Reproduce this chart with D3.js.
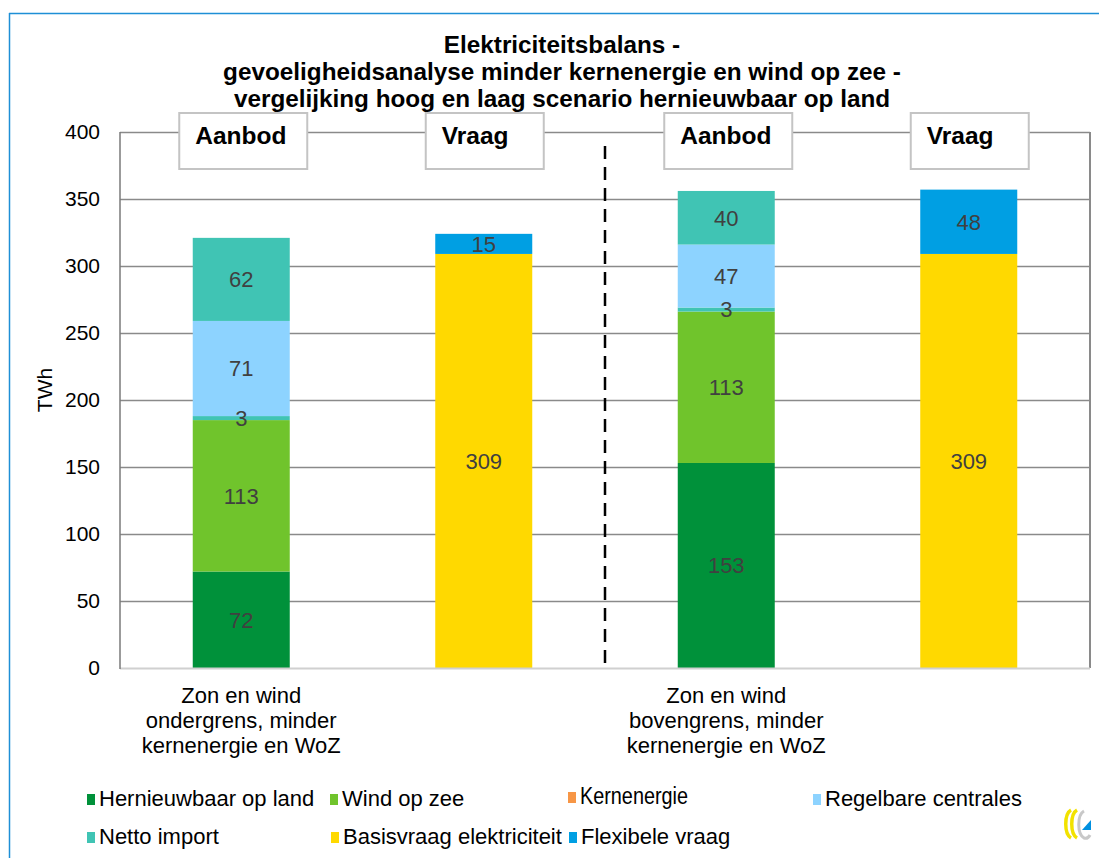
<!DOCTYPE html>
<html>
<head>
<meta charset="utf-8">
<script src="https://cdn.jsdelivr.net/npm/d3@7"></script>
<style>
  html, body { margin: 0; padding: 0; background: #fff; }
  svg { display: block; font-family: "Liberation Sans", Arial, sans-serif; }
</style>
</head>
<body>
<svg id="chart" width="1099" height="858"></svg>
<script>
// ---------- DATA ----------
const categories = ["Ondergrens – Aanbod", "Ondergrens – Vraag", "Bovengrens – Aanbod", "Bovengrens – Vraag"];
const categoryLabels = [
  ["Zon en wind", "ondergrens, minder", "kernenergie en WoZ"],
  [],
  ["Zon en wind", "bovengrens, minder", "kernenergie en WoZ"],
  []
];
const boxLabels = ["Aanbod", "Vraag", "Aanbod", "Vraag"];
const titleLines = [
  "Elektriciteitsbalans -",
  "gevoeligheidsanalyse minder kernenergie en wind op zee -",
  "vergelijking hoog en laag scenario hernieuwbaar op land"
];
const yTicks = [0, 50, 100, 150, 200, 250, 300, 350, 400];
const yLabel = "TWh";

const seriesNames = ["Hernieuwbaar op land", "Wind op zee", "Kernenergie", "Regelbare centrales", "Netto import", "Basisvraag elektriciteit", "Flexibele vraag"];
const hernieuwbaarOpLand = [72, 0, 153, 0];
const windOpZee = [113, 0, 113, 0];
const kernenergie = [3, 0, 3, 0];
const regelbareCentrales = [71, 0, 47, 0];
const nettoImport = [62, 0, 40, 0];
const basisvraag = [0, 309, 0, 309];
const flexibeleVraag = [0, 15, 0, 48];
const seriesValues = [hernieuwbaarOpLand, windOpZee, kernenergie, regelbareCentrales, nettoImport, basisvraag, flexibeleVraag];

// colours
const barColors = ["#00913A", "#70C42C", "#40C4B4", "#8DD3FF", "#40C4B4", "#FFD900", "#009FE3"];
const legendColors = ["#00913A", "#70C42C", "#F79646", "#8DD3FF", "#40C4B4", "#FFD900", "#009FE3"];

// ---------- LAYOUT ----------
const svg = d3.select("#chart");
const plot = { left: 120, right: 1090, top: 132, bottom: 668 };

const x = d3.scaleBand().domain(categories).range([plot.left, plot.right]).paddingInner(0.6).paddingOuter(0.3);
const y = d3.scaleLinear().domain([0, 400]).range([plot.bottom, plot.top]);

// frame (blue lines)
svg.append("line").attr("x1", 9).attr("x2", 1099).attr("y1", 13.5).attr("y2", 13.5).attr("stroke", "#1E8FD6").attr("stroke-width", 1.5);
svg.append("line").attr("x1", 9.5).attr("x2", 9.5).attr("y1", 13).attr("y2", 858).attr("stroke", "#1E8FD6").attr("stroke-width", 1.5);

// gridlines
const grid = svg.append("g").attr("transform", `translate(${plot.left},0)`)
  .call(d3.axisLeft(y).tickValues(yTicks.filter(d => d > 0)).tickSize(-(plot.right - plot.left)).tickFormat(""));
grid.select(".domain").remove();
grid.selectAll("line").attr("stroke", "#8A8A8A").attr("stroke-width", 1.3);

// right border of plot
svg.append("line").attr("x1", plot.right).attr("x2", plot.right).attr("y1", plot.top).attr("y2", plot.bottom)
  .attr("stroke", "#8A8A8A").attr("stroke-width", 2);

// y axis labels
const yAxis = svg.append("g").attr("transform", `translate(${plot.left},0)`)
  .call(d3.axisLeft(y).tickValues(yTicks).tickSize(0).tickPadding(20).tickFormat(d3.format("d")));
yAxis.select(".domain").remove();
yAxis.selectAll("text").attr("font-size", 21).attr("fill", "#000").attr("font-family", "Liberation Sans, Arial, sans-serif");

svg.append("text").attr("transform", `translate(52,390) rotate(-90)`).attr("text-anchor", "middle")
  .attr("font-size", 21).attr("fill", "#000").text(yLabel);

// stacked bars
const stackData = categories.map((c, i) => {
  const o = { cat: c };
  seriesNames.forEach((s, j) => { o[s] = seriesValues[j][i]; });
  return o;
});
const stack = d3.stack().keys(seriesNames)(stackData);

const barsG = svg.append("g");
stack.forEach((layer, j) => {
  barsG.selectAll(null).data(layer.filter(d => d[1] - d[0] > 0)).enter().append("rect")
    .attr("x", d => x(d.data.cat))
    .attr("width", x.bandwidth())
    .attr("y", d => y(d[1]))
    .attr("height", d => y(d[0]) - y(d[1]))
    .attr("fill", barColors[j]);
});
stack.forEach((layer, j) => {
  barsG.selectAll(null).data(layer.filter(d => d[1] - d[0] > 0)).enter().append("text")
    .attr("x", d => x(d.data.cat) + x.bandwidth() / 2)
    .attr("y", d => (y(d[0]) + y(d[1])) / 2)
    .attr("dy", "0.36em")
    .attr("text-anchor", "middle")
    .attr("font-size", 22)
    .attr("fill", "#404040")
    .text(d => d[1] - d[0]);
});

// axes lines
svg.append("line").attr("x1", plot.left).attr("x2", plot.right).attr("y1", plot.bottom + 0.5).attr("y2", plot.bottom + 0.5)
  .attr("stroke", "#D0D0D0").attr("stroke-width", 2);
svg.append("line").attr("x1", plot.left).attr("x2", plot.left).attr("y1", plot.top).attr("y2", plot.bottom + 1)
  .attr("stroke", "#7A7A7A").attr("stroke-width", 1.5);

// dashed separator between the two scenarios
const sepX = (x(categories[1]) + x.bandwidth() + x(categories[2])) / 2;
svg.append("line").attr("x1", sepX).attr("x2", sepX).attr("y1", 146).attr("y2", plot.bottom)
  .attr("stroke", "#000").attr("stroke-width", 2.5).attr("stroke-dasharray", "13,8");

// header boxes
boxLabels.forEach((lab, i) => {
  const cx = x(categories[i]) + x.bandwidth() / 2 + (lab === "Aanbod" ? 2 : 1);
  const w = lab === "Aanbod" ? 128 : 118;
  svg.append("rect").attr("x", cx - w / 2).attr("y", 113).attr("width", w).attr("height", 56)
    .attr("fill", "#fff").attr("stroke", "#C4C4C4").attr("stroke-width", 2);
  svg.append("text").attr("x", cx - w / 2 + 16).attr("y", 144)
    .attr("font-size", 24.5).attr("font-weight", "bold").attr("fill", "#000").text(lab);
});

// category labels
categoryLabels.forEach((lines, i) => {
  const cx = x(categories[i]) + x.bandwidth() / 2;
  lines.forEach((ln, k) => {
    svg.append("text").attr("x", cx).attr("y", 703 + k * 25).attr("text-anchor", "middle")
      .attr("font-size", 22).attr("fill", "#000").text(ln);
  });
});

// title
titleLines.forEach((ln, k) => {
  svg.append("text").attr("x", 562).attr("y", 53 + k * 27).attr("text-anchor", "middle")
    .attr("font-size", 24.3).attr("font-weight", "bold").attr("fill", "#000").text(ln);
});

// legend
const legendPos = [
  [87, 806], [330, 806], [568, 804], [813, 806],
  [87, 844], [331, 844], [569, 844]
];
seriesNames.forEach((s, j) => {
  const [lx, ly] = legendPos[j];
  svg.append("rect").attr("x", lx).attr("y", ly - 12).attr("width", 8).attr("height", 11).attr("fill", legendColors[j]);
  const t = svg.append("text").attr("x", lx + 12).attr("y", ly).attr("fill", "#000").text(s);
  if (s === "Kernenergie") {
    t.attr("font-size", 23).attr("textLength", 108).attr("lengthAdjust", "spacingAndGlyphs");
  } else {
    t.attr("font-size", 22);
  }
});

// logo (bottom right)
const logo = svg.append("g").attr("transform", "translate(1062,808)");
logo.append("path").attr("d", "M9,2 C2,6 2,26 9,30").attr("fill", "none").attr("stroke", "#F2E200").attr("stroke-width", 3.5);
logo.append("path").attr("d", "M15,2 C8,6 8,26 15,30").attr("fill", "none").attr("stroke", "#F2E200").attr("stroke-width", 3.5);
logo.append("path").attr("d", "M22,3 C15,7 15,26 22,30 C25,31 27,29 28,27").attr("fill", "none").attr("stroke", "#C8C8C8").attr("stroke-width", 3);
logo.append("path").attr("d", "M20,22 L29,22 L29,12 Z").attr("fill", "#0090E0");
</script>
</body>
</html>
